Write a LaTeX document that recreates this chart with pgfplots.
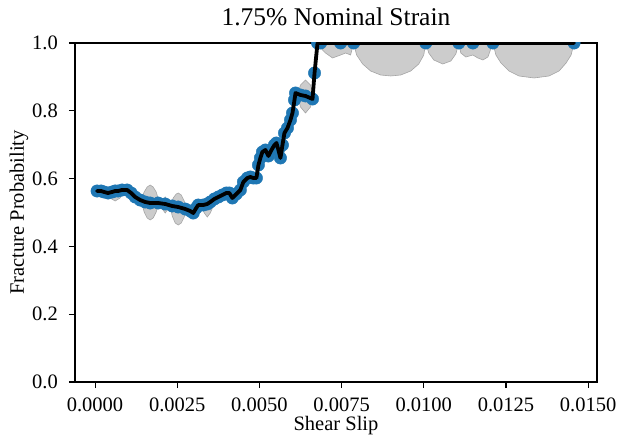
\documentclass[border=0pt]{standalone}
\usepackage{fontspec}
\setmainfont{Liberation Serif}
\usepackage{pgfplots}
\usepackage{pgfplotstable}
\pgfplotsset{compat=1.18}
\definecolor{mplblue}{HTML}{1F77B4}
\definecolor{bandfill}{RGB}{204,204,204}
\definecolor{bandedge}{RGB}{165,165,165}

\pgfplotstableread{
x y
0.000061 0.5634
0.000183 0.5634
0.000274 0.5605
0.000396 0.5575
0.000518 0.5605
0.000610 0.5634
0.000701 0.5634
0.000823 0.5664
0.000976 0.5664
0.001098 0.5575
0.001220 0.5457
0.001372 0.5369
0.001524 0.5310
0.001677 0.5280
0.001921 0.5280
0.002134 0.5251
0.002348 0.5192
0.002530 0.5162
0.002744 0.5103
0.002896 0.5044
0.002988 0.4985
0.003079 0.5133
0.003140 0.5221
0.003293 0.5221
0.003415 0.5251
0.003506 0.5310
0.003628 0.5398
0.003750 0.5457
0.003872 0.5516
0.003994 0.5575
0.004085 0.5575
0.004177 0.5428
0.004299 0.5546
0.004421 0.5664
0.004512 0.5900
0.004634 0.6018
0.004726 0.6047
0.004817 0.6018
0.004909 0.6018
0.004970 0.6401
0.005030 0.6608
0.005091 0.6785
0.005183 0.6844
0.005274 0.6667
0.005366 0.6844
0.005457 0.6991
0.005518 0.7050
0.005579 0.6844
0.005640 0.6608
0.005701 0.6991
0.005762 0.7345
0.005854 0.7493
0.005945 0.7729
0.006006 0.7935
0.006067 0.8319
0.006098 0.8525
0.006250 0.8466
0.006402 0.8437
0.006616 0.8348
0.006677 0.9115
0.006768 1.0000
0.006860 1.0000
0.007470 1.0000
0.007866 1.0000
0.010061 1.0000
0.011067 1.0000
0.011494 1.0000
0.012104 1.0000
0.014573 1.0000
}\datatable

\begin{document}
\begin{tikzpicture}
\begin{axis}[
  scale only axis, width=522bp, height=339bp,
  at={(0,0)}, anchor=south west,
  xmin=-0.00061, xmax=0.01527, ymin=0, ymax=1,
  xtick={0,0.0025,0.005,0.0075,0.01,0.0125,0.015},
  ytick={0,0.2,0.4,0.6,0.8,1.0},
  scaled x ticks=false, scaled y ticks=false,
  clip marker paths=true,
  /pgf/number format/assume math mode=true,
  x tick label style={/pgf/number format/.cd, fixed, fixed zerofill, precision=4, /tikz/.cd},
  y tick label style={/pgf/number format/.cd, fixed, fixed zerofill, precision=1, /tikz/.cd},
  tick label style={font=\fontsize{20.5bp}{24bp}\selectfont},
  xticklabel style={anchor=north, inner sep=0pt, yshift=-10bp},
  yticklabel style={anchor=east, inner sep=0pt, xshift=-11bp},
  tick pos=left, tick align=outside,
  major tick length=6bp,
  every tick/.style={black, line width=1.1bp},
  axis line style={black, line width=1.1bp},
  title={1.75\% Nominal Strain},
  title style={font=\fontsize{25.5bp}{30bp}\selectfont, at={(axis description cs:0.5,1)}, anchor=base, yshift=12bp, inner sep=0pt},
  xlabel={Shear Slip},
  xlabel style={font=\fontsize{20.5bp}{24bp}\selectfont, at={(axis description cs:0.5,-0.1445)}, anchor=base, inner sep=0pt},
  ylabel={Fracture Probability},
  ylabel style={font=\fontsize{20.5bp}{24bp}\selectfont, at={(axis description cs:-0.0977,0.5)}, anchor=base, inner sep=0pt},
]
% uncertainty band (lower region blobs)
\addplot[fill=bandfill, draw=bandedge, line width=0.6bp] coordinates {
(0.000366,0.5575) (0.000457,0.5723) (0.000610,0.5811) (0.000762,0.5723) (0.000854,0.5575) (0.000762,0.5428) (0.000610,0.5339) (0.000457,0.5428) (0.000366,0.5575)};
\addplot[fill=bandfill, draw=bandedge, line width=0.6bp] coordinates {
(0.001402,0.5369) (0.001494,0.5605) (0.001585,0.5752) (0.001677,0.5811) (0.001768,0.5752) (0.001860,0.5605) (0.001951,0.5310) (0.001860,0.5015) (0.001768,0.4838) (0.001677,0.4779) (0.001585,0.4838) (0.001494,0.5015) (0.001402,0.5369)};
\addplot[fill=bandfill, draw=bandedge, line width=0.6bp] coordinates {
(0.001982,0.5192) (0.002134,0.5457) (0.002287,0.5192) (0.002134,0.4985) (0.001982,0.5192)};
\addplot[fill=bandfill, draw=bandedge, line width=0.6bp] coordinates {
(0.002287,0.5162) (0.002378,0.5428) (0.002470,0.5546) (0.002530,0.5575) (0.002622,0.5516) (0.002713,0.5339) (0.002774,0.5103) (0.002713,0.4867) (0.002622,0.4690) (0.002530,0.4631) (0.002439,0.4690) (0.002348,0.4897) (0.002287,0.5162)};
\addplot[fill=bandfill, draw=bandedge, line width=0.6bp] coordinates {
(0.003232,0.5192) (0.003323,0.5369) (0.003415,0.5457) (0.003506,0.5369) (0.003598,0.5192) (0.003506,0.4985) (0.003415,0.4867) (0.003323,0.4985) (0.003232,0.5192)};
\addplot[fill=bandfill, draw=bandedge, line width=0.6bp] coordinates {
(0.006159,0.8466) (0.006250,0.8761) (0.006402,0.8909) (0.006555,0.8761) (0.006646,0.8466) (0.006555,0.8112) (0.006402,0.7935) (0.006250,0.8112) (0.006159,0.8466)};
% upper region band (clipped at 1)
\addplot[fill=bandfill, draw=bandedge, line width=0.6bp] coordinates {
(0.006768,1.0) (0.006921,0.9794) (0.007012,0.9705) (0.007226,0.9558) (0.007470,0.9646) (0.007622,0.9705) (0.007774,0.9646) (0.007866,1.0)
(0.007957,0.9646) (0.008140,0.9381) (0.008384,0.9174) (0.008689,0.9056) (0.008994,0.9027) (0.009299,0.9056) (0.009604,0.9174) (0.009848,0.9381) (0.010000,0.9646) (0.010061,1.0)
(0.010152,0.9705) (0.010305,0.9499) (0.010579,0.9381) (0.010823,0.9469) (0.010976,0.9676) (0.011067,1.0)
(0.011128,0.9705) (0.011280,0.9587) (0.011494,0.9646) (0.011646,0.9558) (0.011799,0.9499) (0.011951,0.9587) (0.012104,1.0)
(0.012195,0.9646) (0.012348,0.9410) (0.012591,0.9174) (0.012896,0.9027) (0.013354,0.8968) (0.013811,0.9027) (0.014116,0.9174) (0.014329,0.9410) (0.014482,0.9646) (0.014573,1.0)
(0.014573,1.1) (0.006768,1.1) (0.006768,1.0)};
% data points
\addplot[only marks, mark=*, mark size=6.2bp, mark options={draw=mplblue, fill=mplblue}] table[x=x, y=y] {\datatable};
% mean line
\addplot[black, line width=3.8bp, line join=round, line cap=round] table[x=x, y=y] {\datatable};
\end{axis}
\pgfresetboundingbox
\path (-75bp,-55bp) rectangle (545bp,382bp);
\end{tikzpicture}
\end{document}
